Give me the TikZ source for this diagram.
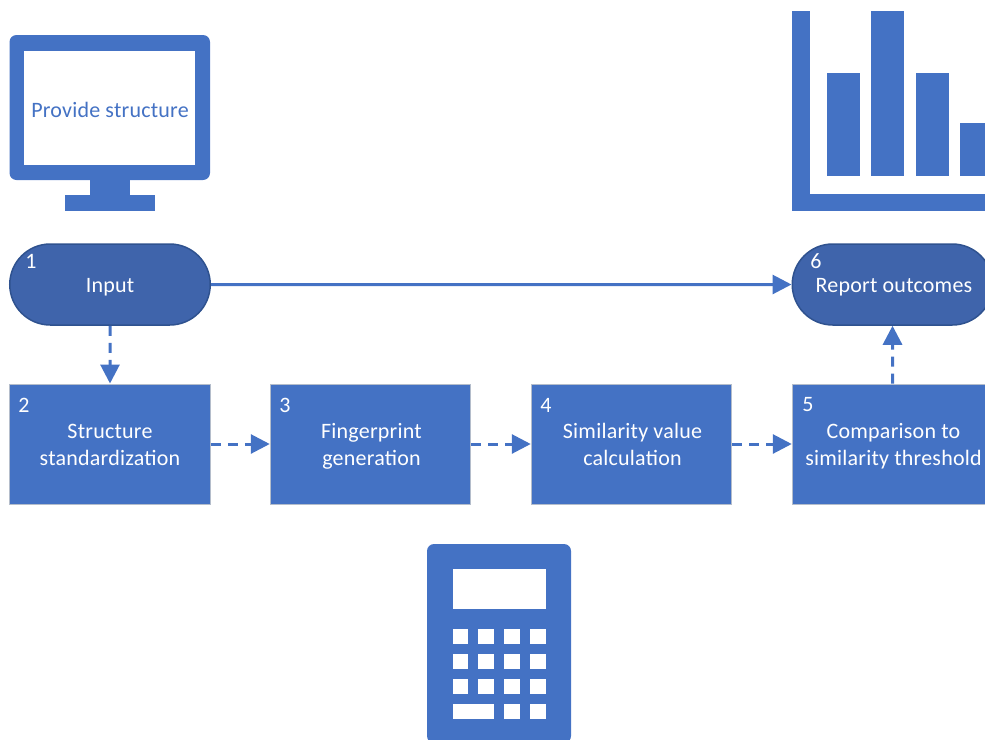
\documentclass[tikz,border=0pt]{standalone}
\usepackage{fontspec}
\setmainfont{Carlito}[LetterSpace=1]
\usetikzlibrary{arrows.meta,shapes.misc}
\definecolor{blu}{HTML}{4472C4}
\definecolor{pill}{HTML}{3F64AB}
\definecolor{pilledge}{HTML}{2F528F}
\definecolor{boxedge}{HTML}{B4BDCB}
\newcommand\oneline[1]{\raisebox{0pt}[18pt][3pt]{#1}}
\newcommand\twoline[1]{\raisebox{0pt}[20pt][3.6pt]{#1}}
\tikzset{
  x=1pt,y=-1pt,
  lab/.style={font=\fontsize{22}{27}\selectfont,text=white,align=center,inner sep=0pt},
  stepbox/.style={draw=boxedge,line width=1pt,fill=blu,minimum width=200.5pt,minimum height=120pt,inner sep=0pt,lab},
  pillbox/.style={rounded rectangle,draw=pilledge,line width=1.5pt,fill=pill,minimum width=200.5pt,minimum height=81pt,inner sep=0pt,lab},
  num/.style={font=\fontsize{22}{24}\selectfont,text=white,inner sep=0pt},
  icon/.style={fill=blu,draw=none},
  hole/.style={fill=white,draw=none},
  conn/.style={draw=blu,line width=3pt,-{Triangle[length=19pt,width=19pt]},shorten >=0pt},
  dashconn/.style={conn,dash pattern=on 10pt off 7pt},
}
\begin{document}
\begin{tikzpicture}
\useasboundingbox (0,0) rectangle (985,739);
\clip (0,0) rectangle (985,739);
% monitor
\fill[icon,rounded corners=7pt] (9.5,35) rectangle (210,180);
\fill[hole] (24,50.5) rectangle (195,164.5);
\fill[icon] (90,179) rectangle (130,196);
\fill[icon] (65,195) rectangle (155,211);
\node[font=\fontsize{22}{24}\selectfont,text=blu,inner sep=0pt] (prov) at (110,109.5) {\oneline{Provide structure}};
% chart
\fill[icon] (792,11) rectangle (809.5,211);
\fill[icon] (792,193.5) rectangle (990,211);
\fill[icon] (827,73) rectangle (860,176);
\fill[icon] (871,11) rectangle (904,176);
\fill[icon] (916,73) rectangle (949,176);
\fill[icon] (960,123) rectangle (993,176);
% calculator
\fill[icon,rounded corners=7pt] (427,544) rectangle (571,743);
\fill[hole] (452.5,569) rectangle (545.5,609);
\foreach \yy in {629,654,679} \foreach \xx in {452.5,478,504,530}
  \fill[hole] (\xx,\yy) rectangle ++(15.5,15);
\fill[hole] (452.5,704) rectangle (494,719);
\fill[hole] (504,704) rectangle ++(15.5,15);
\fill[hole] (530,704) rectangle ++(15.5,15);
% flow nodes
\node[pillbox] (n1) at (110,284.5) {\oneline{Input}};
\node[pillbox] (n6) at (892.5,284.5) {\hspace*{3pt}\oneline{Report outcomes}};
\node[stepbox] (n2) at (110,444) {\twoline{Structure}\\\twoline{standardization}};
\node[stepbox] (n3) at (370.5,444) {\hspace*{2pt}\twoline{Fingerprint}\\\hspace*{2pt}\twoline{generation}};
\node[stepbox] (n4) at (631.5,444) {\hspace*{2pt}\twoline{Similarity value}\\\hspace*{2pt}\twoline{calculation}};
\node[stepbox] (n5) at (892.5,444) {\hspace*{2pt}\twoline{Comparison to}\\\hspace*{2pt}\twoline{similarity threshold}};
\node[num] (t1) at (31,261) {1};
\node[num] (t6) at (816,261) {6};
\node[num] (t2) at (24,405) {2};
\node[num] (t3) at (285,405) {3};
\node[num] (t4) at (546,405) {4};
\node[num] (t5) at (808,405) {5};
% connectors
\draw[conn] (n1) -- (n6);
\draw[dashconn] (n1) -- (n2);
\draw[dashconn] (n2) -- (n3);
\draw[dashconn] (n3) -- (n4);
\draw[dashconn] (n4) -- (n5);
\draw[dashconn] (n5) -- (n6);
\end{tikzpicture}
\end{document}
